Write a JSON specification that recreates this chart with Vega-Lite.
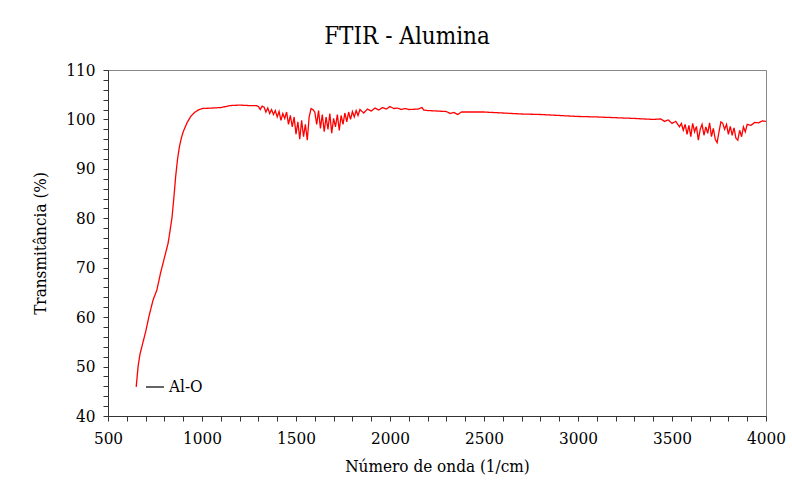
{
  "$schema": "https://vega.github.io/schema/vega-lite/v6.json",
  "autosize": {"type": "none"},
  "width": 658,
  "height": 346,
  "padding": {"left": 108, "top": 70, "right": 26, "bottom": 77},
  "background": "white",
  "config": {
    "font": "DejaVu Serif Condensed",
    "view": {"stroke": "#888", "strokeWidth": 1},
    "axis": {"grid": false, "domainColor": "#333", "tickColor": "#333", "labelColor": "#000", "titleColor": "#000", "labelFont": "DejaVu Serif Condensed", "titleFont": "DejaVu Serif Condensed", "labelFontSize": 17, "titleFontSize": 17, "titleFontWeight": "normal", "tickSize": 5},
    "legend": {"labelFont": "DejaVu Serif Condensed"}
  },
  "title": {"text": "FTIR - Alumina", "font": "DejaVu Serif Condensed", "fontSize": 24, "fontWeight": "normal", "color": "#000", "anchor": "middle", "dx": -30, "offset": 12},
  "data": {"values": [
    {"w":650,"t":45.9},{"w":660,"t":50},{"w":670,"t":52.5},{"w":680,"t":54},{"w":700,"t":57},{"w":720,"t":60.5},{"w":740,"t":63.5},{"w":760,"t":65.5},{"w":780,"t":69},{"w":800,"t":72},{"w":820,"t":75},{"w":840,"t":80},{"w":850,"t":84},{"w":860,"t":88.5},{"w":870,"t":92},{"w":880,"t":94.5},{"w":890,"t":96.2},{"w":900,"t":97.5},{"w":920,"t":99.3},{"w":940,"t":100.6},{"w":960,"t":101.4},{"w":980,"t":101.9},{"w":1000,"t":102.2},{"w":1050,"t":102.3},{"w":1100,"t":102.4},{"w":1150,"t":102.8},{"w":1200,"t":102.9},{"w":1250,"t":102.8},{"w":1290,"t":102.8},
    {"w":1300,"t":102.6},{"w":1310,"t":102.0},{"w":1320,"t":102.7},{"w":1330,"t":102.5},{"w":1340,"t":101.5},{"w":1350,"t":102.3},{"w":1360,"t":101.2},{"w":1370,"t":102.0},{"w":1380,"t":101.0},{"w":1390,"t":101.8},{"w":1400,"t":100.5},{"w":1410,"t":101.6},{"w":1420,"t":99.8},{"w":1430,"t":101.2},{"w":1440,"t":100.2},{"w":1450,"t":101.5},{"w":1460,"t":99.0},{"w":1470,"t":100.8},{"w":1480,"t":98.5},{"w":1490,"t":100.5},{"w":1500,"t":97.0},{"w":1510,"t":99.5},{"w":1520,"t":96.0},{"w":1530,"t":99.8},{"w":1540,"t":96.5},{"w":1550,"t":99.0},{"w":1560,"t":95.8},{"w":1570,"t":100.5},{"w":1580,"t":102.2},{"w":1590,"t":102.0},{"w":1600,"t":101.5},{"w":1610,"t":99.0},{"w":1620,"t":101.8},{"w":1630,"t":98.2},{"w":1640,"t":101.0},{"w":1650,"t":97.5},{"w":1660,"t":100.5},{"w":1670,"t":98.0},{"w":1680,"t":101.2},{"w":1690,"t":97.2},{"w":1700,"t":100.2},{"w":1710,"t":98.5},{"w":1720,"t":101.0},{"w":1730,"t":97.8},{"w":1740,"t":100.8},{"w":1750,"t":99.0},{"w":1760,"t":101.3},{"w":1770,"t":99.5},{"w":1780,"t":101.5},{"w":1790,"t":100.0},{"w":1800,"t":101.6},{"w":1810,"t":100.5},{"w":1820,"t":101.8},{"w":1830,"t":100.8},{"w":1840,"t":102.0},{"w":1860,"t":101.3},{"w":1880,"t":102.1},{"w":1900,"t":101.7},{"w":1920,"t":102.3},{"w":1940,"t":101.9},{"w":1960,"t":102.4},{"w":1980,"t":102.1},{"w":2000,"t":102.6},{"w":2020,"t":102.2},{"w":2040,"t":102.3},{"w":2060,"t":102.0},{"w":2080,"t":102.2},{"w":2100,"t":102.0},{"w":2150,"t":102.1},{"w":2170,"t":102.4},{"w":2180,"t":101.9},{"w":2200,"t":101.8},{"w":2250,"t":101.7},{"w":2300,"t":101.6},{"w":2320,"t":101.2},{"w":2340,"t":101.4},{"w":2360,"t":101.0},{"w":2380,"t":101.5},{"w":2400,"t":101.5},{"w":2500,"t":101.5},{"w":2600,"t":101.3},{"w":2700,"t":101.1},{"w":2800,"t":101.0},{"w":2900,"t":100.8},{"w":3000,"t":100.6},{"w":3100,"t":100.5},{"w":3200,"t":100.35},{"w":3300,"t":100.2},{"w":3400,"t":100.0},
    {"w":3440,"t":100.1},{"w":3460,"t":99.6},{"w":3480,"t":99.9},{"w":3500,"t":99.2},{"w":3520,"t":99.6},{"w":3540,"t":98.5},{"w":3550,"t":99.2},{"w":3560,"t":97.8},{"w":3570,"t":99.0},{"w":3580,"t":97.0},{"w":3590,"t":98.8},{"w":3600,"t":96.5},{"w":3610,"t":99.2},{"w":3620,"t":97.5},{"w":3630,"t":98.6},{"w":3640,"t":95.8},{"w":3650,"t":98.0},{"w":3660,"t":99.0},{"w":3670,"t":96.8},{"w":3680,"t":98.5},{"w":3690,"t":97.2},{"w":3700,"t":99.3},{"w":3710,"t":96.5},{"w":3720,"t":98.2},{"w":3730,"t":96.0},{"w":3740,"t":95.3},{"w":3750,"t":97.5},{"w":3760,"t":99.5},{"w":3770,"t":99.2},{"w":3780,"t":98.0},{"w":3790,"t":99.0},{"w":3800,"t":97.0},{"w":3810,"t":98.6},{"w":3820,"t":96.8},{"w":3830,"t":98.3},{"w":3840,"t":96.2},{"w":3850,"t":95.8},{"w":3860,"t":97.8},{"w":3870,"t":96.5},{"w":3880,"t":98.5},{"w":3890,"t":97.5},{"w":3900,"t":99.0},{"w":3920,"t":98.8},{"w":3940,"t":99.4},{"w":3960,"t":99.3},{"w":3980,"t":99.7},{"w":4000,"t":99.6}
  ]},
  "transform": [{"calculate": "'Al-O'", "as": "s"}],
  "mark": {"type": "line", "strokeWidth": 1.3, "interpolate": "linear", "color": "#ff0000"},
  "encoding": {
    "x": {"field": "w", "type": "quantitative", "scale": {"domain": [500, 4000], "nice": false, "zero": false},
      "axis": {"title": "Número de onda (1/cm)", "values": [500,600,700,800,900,1000,1100,1200,1300,1400,1500,1600,1700,1800,1900,2000,2100,2200,2300,2400,2500,2600,2700,2800,2900,3000,3100,3200,3300,3400,3500,3600,3700,3800,3900,4000],
        "labelExpr": "datum.value % 500 === 0 ? datum.value : ''", "labelPadding": 9, "titlePadding": 12, "labelFlush": false, "labelOverlap": false}},
    "y": {"field": "t", "type": "quantitative", "scale": {"domain": [40, 110], "nice": false, "zero": false},
      "axis": {"title": "Transmitância (%)", "values": [40,42,44,46,48,50,52,54,56,58,60,62,64,66,68,70,72,74,76,78,80,82,84,86,88,90,92,94,96,98,100,102,104,106,108,110],
        "labelExpr": "datum.value % 10 === 0 ? datum.value : ''", "labelPadding": 8, "titlePadding": 16, "labelFlush": false, "labelOverlap": false}},
    "strokeDash": {"field": "s", "type": "nominal", "scale": {"range": [[1, 0]]},
      "legend": {"title": null, "orient": "none", "legendX": 37, "legendY": 307, "symbolType": "stroke", "symbolSize": 324, "symbolStrokeWidth": 1.5, "symbolStrokeColor": "#333", "labelFontSize": 17, "labelColor": "#000", "labelOffset": 4, "padding": 0}}
  }
}
